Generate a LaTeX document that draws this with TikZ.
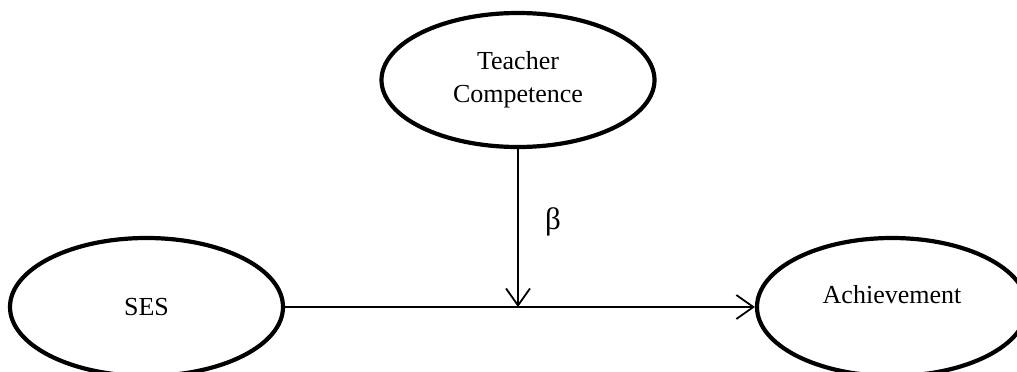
\documentclass[tikz,border=0pt]{standalone}
\usepackage{fontspec}
\setmainfont{Liberation Serif}
\usetikzlibrary{shapes.geometric,arrows.meta}
\begin{document}
\begin{tikzpicture}[x=1pt,y=-1pt,
  latent/.style={ellipse,draw,line width=4.2pt,inner sep=0pt,align=center,
    font=\fontsize{26}{33}\selectfont},
  conn/.style={line width=1.8pt,-{Straight Barb[length=17pt,width=24pt,line width=1.8pt]}}]
\useasboundingbox (0,0) rectangle (1017,372);
\node[latent,minimum width=273pt,minimum height=134pt] (tc) at (518,80) {Teacher\\Competence};
\node[latent,minimum width=273pt,minimum height=138pt] (ses) at (146.5,307) {SES};
\node[latent,minimum width=270pt,minimum height=138pt,text depth=26pt] (ach) at (892,307) {Achievement};
\coordinate (mid) at (518,307);
\draw[conn] (tc.south) -- (mid);
\draw[conn] (ses.east) -- (ach.west);
\node[font=\fontsize{31}{36}\selectfont] (beta) at (553,222) {β};
\end{tikzpicture}
\end{document}
